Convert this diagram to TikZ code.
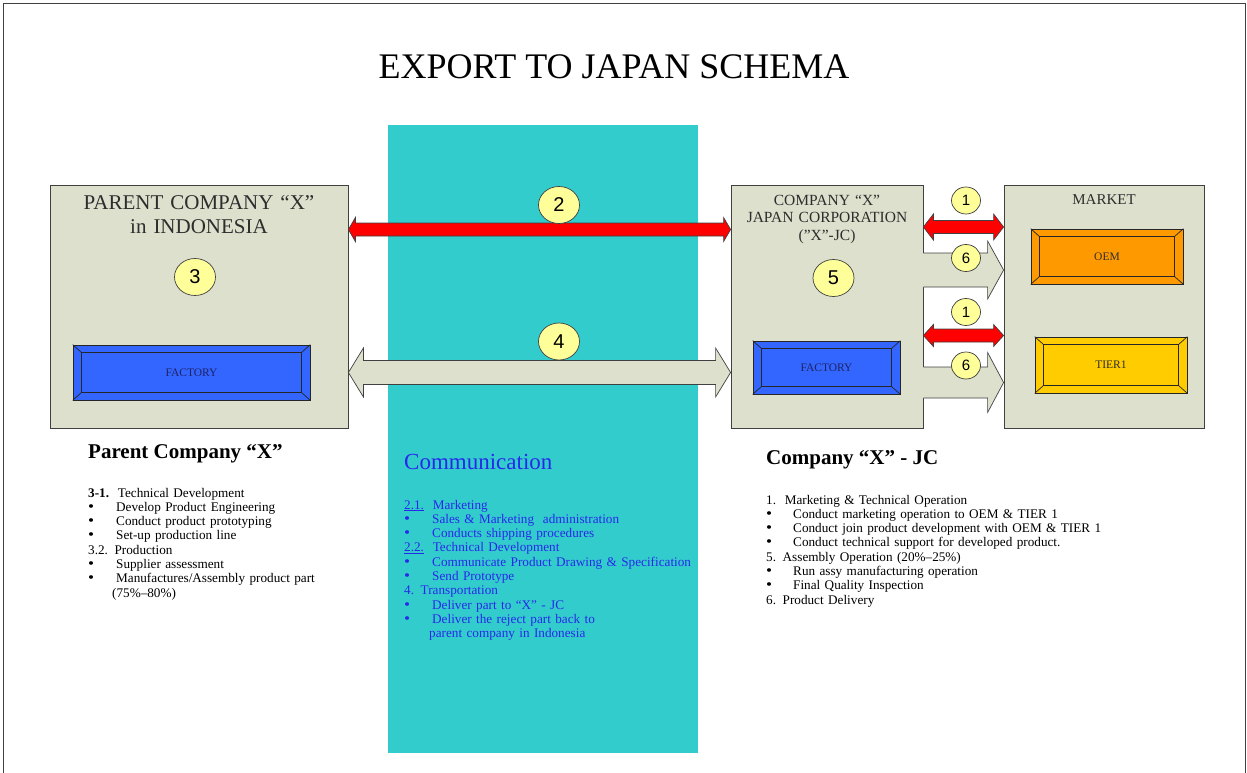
\documentclass[tikz,border=0pt]{standalone}
\usepackage{fontspec}
\setmainfont{Liberation Serif}
\newfontfamily\numfont{Liberation Sans}
\usetikzlibrary{calc,shapes.geometric}

\definecolor{panel}{RGB}{221,224,204}
\definecolor{edgegray}{RGB}{64,64,64}
\definecolor{channel}{RGB}{51,204,204}
\definecolor{factoryblue}{RGB}{51,102,255}
\definecolor{oemorange}{RGB}{255,153,0}
\definecolor{tiergold}{RGB}{255,204,0}
\definecolor{tagyellow}{RGB}{255,255,153}
\definecolor{commblue}{RGB}{40,40,235}
\definecolor{titlegray}{RGB}{45,45,45}
\definecolor{factorytext}{RGB}{30,35,100}

\tikzset{
  panelbox/.style={draw=edgegray, line width=0.8pt, fill=panel, inner sep=0pt},
  bevelbox/.style={draw=black!85, line width=0.7pt, inner sep=0pt,
    font=\fontsize{11.5}{12}\selectfont},
  bevelline/.style={draw=black!85, line width=0.7pt},
  tagbig/.style={ellipse, draw=edgegray, line width=0.7pt, fill=tagyellow,
    minimum width=41pt, minimum height=37pt, inner sep=0pt,
    font=\numfont\fontsize{20}{20}\selectfont},
  tagsmall/.style={ellipse, draw=edgegray, line width=0.7pt, fill=tagyellow,
    minimum width=29pt, minimum height=27pt, inner sep=0pt,
    font=\numfont\fontsize{15}{15}\selectfont},
  redarrow/.style={fill=red, draw=edgegray, line width=0.7pt},
  panelarrow/.style={fill=panel, draw=edgegray, line width=0.7pt},
  edgeline/.style={draw=edgegray, line width=0.7pt},
  boxtitle/.style={text=titlegray, align=center, inner sep=0pt, anchor=base},
  heading/.style={inner sep=0pt, anchor=base west,
    font=\bfseries\fontsize{21}{24}\selectfont},
  listtext/.style={inner sep=0pt, anchor=base west, align=left,
    text width=420pt, font=\fontsize{13.2}{14.3}\selectfont}
}

% inner frame and corner diagonals of a bevelled button
\newcommand\bevel[1]{%
  \draw[bevelline] ($(#1.north west)+(9,8)$) rectangle ($(#1.south east)+(-9,-8)$);
  \draw[bevelline] (#1.north west) -- +(9,8);
  \draw[bevelline] (#1.north east) -- +(-9,8);
  \draw[bevelline] (#1.south west) -- +(9,-8);
  \draw[bevelline] (#1.south east) -- +(-9,-8);
}

% block arrow with two heads: from, to, y, shaft half, head half, head length, style
\newcommand\twoway[7]{%
  \path[#7] let \p1=(#1), \p2=(#2), \p3=(0,#3) in
    (\x1,\y3) -- (\x1+#6pt,\y3-#5pt) -- (\x1+#6pt,\y3-#4pt)
    -- (\x2-#6pt,\y3-#4pt) -- (\x2-#6pt,\y3-#5pt) -- (\x2,\y3)
    -- (\x2-#6pt,\y3+#5pt) -- (\x2-#6pt,\y3+#4pt)
    -- (\x1+#6pt,\y3+#4pt) -- (\x1+#6pt,\y3+#5pt) -- cycle;
}

% block arrow growing out of a panel: from, to, y, shaft half, head half, head length
\newcommand\oneway[6]{%
  \fill[panel] let \p1=(#1), \p2=(#2), \p3=(0,#3) in
    (\x1-1.2pt,\y3-#4pt) -- (\x2-#6pt,\y3-#4pt) -- (\x2-#6pt,\y3-#5pt)
    -- (\x2,\y3) -- (\x2-#6pt,\y3+#5pt) -- (\x2-#6pt,\y3+#4pt)
    -- (\x1-1.2pt,\y3+#4pt) -- cycle;
  \draw[edgeline] let \p1=(#1), \p2=(#2), \p3=(0,#3) in
    (\x1,\y3-#4pt) -- (\x2-#6pt,\y3-#4pt) -- (\x2-#6pt,\y3-#5pt)
    -- (\x2,\y3) -- (\x2-#6pt,\y3+#5pt) -- (\x2-#6pt,\y3+#4pt)
    -- (\x1,\y3+#4pt);
}

\newcommand\bigdot{\scalebox{1.3}[1.15]{\textbullet}}
\newcommand\bul[2][28pt]{\makebox[#1][l]{\bigdot}#2}

\begin{document}
\begin{tikzpicture}[x=1pt,y=-1pt]
\useasboundingbox (0,0) rectangle (1247,773);

% page frame
\draw[line width=1.3pt, black!75] (3.5,773) -- (3.5,3.5) -- (1245.5,3.5) -- (1245.5,773);

% title
\node[inner sep=0pt, anchor=base, font=\fontsize{36}{40}\selectfont] (title) at (614,79)
  {EXPORT TO JAPAN SCHEMA};

% communication channel
\node[fill=channel, inner sep=0pt, minimum width=310pt, minimum height=628pt] (chan) at (543,439) {};

% the three parties
\node[panelbox, minimum width=298pt, minimum height=243pt] (pc) at (199,306.5) {};
\node[panelbox, minimum width=192pt, minimum height=243pt] (jc) at (827,306.5) {};
\node[panelbox, minimum width=200pt, minimum height=243pt] (mk) at (1104,306.5) {};

\node[boxtitle, text width=290pt, font=\fontsize{21}{24}\selectfont] (pctitle) at (199,209)
  {PARENT COMPANY “X”\\in INDONESIA};
\node[boxtitle, text width=190pt, font=\fontsize{15.5}{17.5}\selectfont] (jctitle) at (827,205)
  {COMPANY “X”\\JAPAN CORPORATION\\(”X”-JC)};
\node[boxtitle, font=\fontsize{15}{16}\selectfont] (mktitle) at (1104,204) {MARKET};

% buttons
\node[bevelbox, fill=factoryblue, text=factorytext, minimum width=237pt, minimum height=55pt]
  (fac1) at (191.5,372.5) {FACTORY};
\node[bevelbox, fill=factoryblue, text=factorytext, minimum width=147pt, minimum height=53pt]
  (fac2) at (826.5,367.5) {FACTORY};
\node[bevelbox, fill=oemorange, text=titlegray, minimum width=152pt, minimum height=55pt]
  (oem) at (1107,256.5) {OEM};
\node[bevelbox, fill=tiergold, text=titlegray, minimum width=152pt, minimum height=56pt]
  (tier) at (1111,365) {TIER1};
\bevel{fac1}
\bevel{fac2}
\bevel{oem}
\bevel{tier}

% flows
\twoway{pc.east}{jc.west}{229.5}{6.5}{12}{7}{redarrow}
\twoway{pc.east}{jc.west}{372.5}{12}{24.5}{15}{panelarrow}
\twoway{jc.east}{mk.west}{227}{6.5}{13}{10}{redarrow}
\twoway{jc.east}{mk.west}{335.5}{6.5}{11}{10}{redarrow}
\oneway{jc.east}{mk.west}{270}{17}{29}{16}
\oneway{jc.east}{mk.west}{382.5}{15.5}{30}{16}

% step numbers
\node[tagbig] (n2) at (559,205) {2};
\node[tagbig] (n3) at (195,277) {3};
\node[tagbig] (n4) at (559,341.5) {4};
\node[tagbig] (n5) at (833.5,278) {5};
\node[tagsmall] (n1a) at (966,200.5) {1};
\node[tagsmall] (n6a) at (966,258) {6};
\node[tagsmall] (n1b) at (966,312) {1};
\node[tagsmall] (n6b) at (966,365.5) {6};

% descriptions
\node[heading] (pchead) at (88,458) {Parent Company “X”};
\node[listtext] (pclist) at (88,497) {%
  \textbf{3-1.}\ \ Technical Development\\
  \bul{Develop Product Engineering}\\
  \bul{Conduct product prototyping}\\
  \bul{Set-up production line}\\
  3.2. Production\\
  \bul{Supplier assessment}\\
  \bul{Manufactures/Assembly product part}\\
  \hspace*{24pt}(75\%–80\%)};

\node[heading, font=\fontsize{23}{26}\selectfont, text=commblue] (cmhead) at (404,469) {Communication};
\node[listtext, text=commblue, text width=300pt] (cmlist) at (404,509) {%
  \underline{2.1.}\ \ Marketing\\
  \bul{Sales \& Marketing\ \ administration}\\
  \bul{Conducts shipping procedures}\\
  \underline{2.2.}\ \ Technical Development\\
  \bul{Communicate Product Drawing \& Specification}\\
  \bul{Send Prototype}\\
  4. Transportation\\
  \bul{Deliver part to “X” - JC}\\
  \bul{Deliver the reject part back to}\\
  \hspace*{25pt}parent company in Indonesia};

\node[heading] (jchead) at (766,464) {Company “X” - JC};
\node[listtext] (jclist) at (766,504) {%
  1.\ \ Marketing \& Technical Operation\\
  \bul[27pt]{Conduct marketing operation to OEM \& TIER 1}\\
  \bul[27pt]{Conduct join product development with OEM \& TIER 1}\\
  \bul[27pt]{Conduct technical support for developed product.}\\
  5. Assembly Operation (20\%–25\%)\\
  \bul[27pt]{Run assy manufacturing operation}\\
  \bul[27pt]{Final Quality Inspection}\\
  6. Product Delivery};
\end{tikzpicture}
\end{document}
